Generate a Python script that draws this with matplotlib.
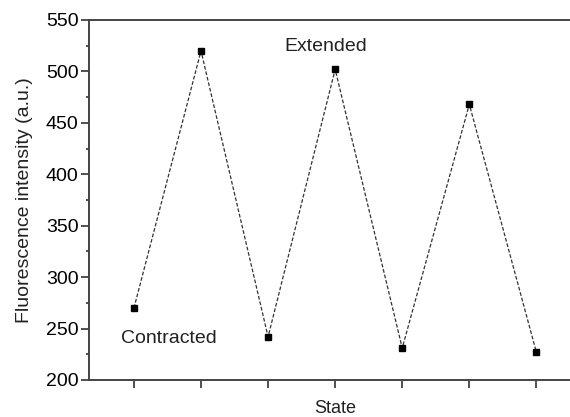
import matplotlib.pyplot as plt
from matplotlib.ticker import MultipleLocator

states = [1, 2, 3, 4, 5, 6, 7]
intensity = [270, 520, 242, 502, 231, 468, 227]

plt.rcParams['font.family'] = ['Liberation Sans', 'DejaVu Sans']

fig = plt.figure(figsize=(5.70, 4.17), dpi=100)
ax = fig.add_axes([89 / 570, 37 / 417, 493 / 570, 360 / 417])

ax.plot(states, intensity, linestyle=(0, (3, 1.5)), color='#333333', linewidth=0.9,
        marker='s', markersize=5, markerfacecolor='black', markeredgecolor='black')

ax.set_xlim(0.33, 7.68)
ax.set_ylim(200, 550)
ax.set_xticks(states)
ax.set_xticklabels([])
ax.yaxis.set_major_locator(MultipleLocator(50))
ax.yaxis.set_minor_locator(MultipleLocator(25))

ax.tick_params(axis='y', which='major', length=5.5, width=1.2, color='#333333', labelsize=14, pad=2)
ax.tick_params(axis='y', which='minor', length=2.5, width=1.2, color='#333333')
ax.tick_params(axis='x', which='major', length=6, width=1.2, color='#333333')

for s in ax.spines.values():
    s.set_linewidth(1.4)
    s.set_color('#444444')

ax.text(3.86, 524, 'Extended', fontsize=14, ha='center', va='center', color='#222222')
ax.text(1.52, 240, 'Contracted', fontsize=14, ha='center', va='center', color='#222222')

ax.set_xlabel('State', fontsize=13, labelpad=5, color='#222222')
ax.set_ylabel('Fluorescence intensity (a.u.)', fontsize=14, labelpad=9, color='#222222')

fig.savefig('out.png', dpi=100)
